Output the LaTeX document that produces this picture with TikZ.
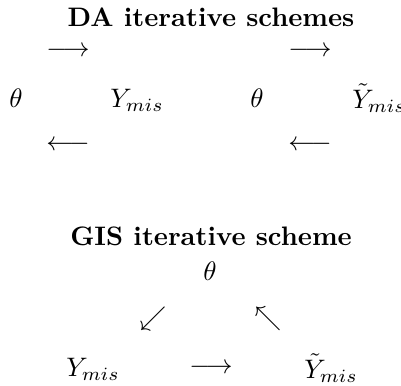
\documentclass[tikz,border=0pt]{standalone}
\usepackage{amsmath}
\usetikzlibrary{positioning}

\begin{document}
\begin{tikzpicture}[x=0.374pt, y=-0.374pt, every node/.style={inner sep=0pt}]
	\useasboundingbox (0,0) rectangle (401,385);
	% DA schemes
	\node (datitle) at (211,17) {\textbf{DA iterative schemes}};
	\node (thetaa) at (16,98) {$\theta$};
	\node (ymisa) at (137,100) {$Y_{mis}$};
	\node (thetab) at (257,98) {$\theta$};
	\node (ymisb) at (379,98) {$\tilde{Y}_{mis}$};
	\node (toa) at (68,52) {$\longrightarrow$};
	\node (tob) at (310,52) {$\longrightarrow$};
	\node (froma) at (68,146) {$\longleftarrow$};
	\node (fromb) at (310,146) {$\longleftarrow$};
	% GIS scheme
	\node (gistitle) at (211,236) {\textbf{GIS iterative scheme}};
	\node (thetac) at (210,271) {$\theta$};
	\node (down) at (153,319) {$\swarrow$};
	\node (up) at (268,319) {$\nwarrow$};
	\node (ymisc) at (93,369) {$Y_{mis}$};
	\node (across) at (211,369) {$\longrightarrow$};
	\node (ymisd) at (331,368) {$\tilde{Y}_{mis}$};
\end{tikzpicture}
\end{document}
